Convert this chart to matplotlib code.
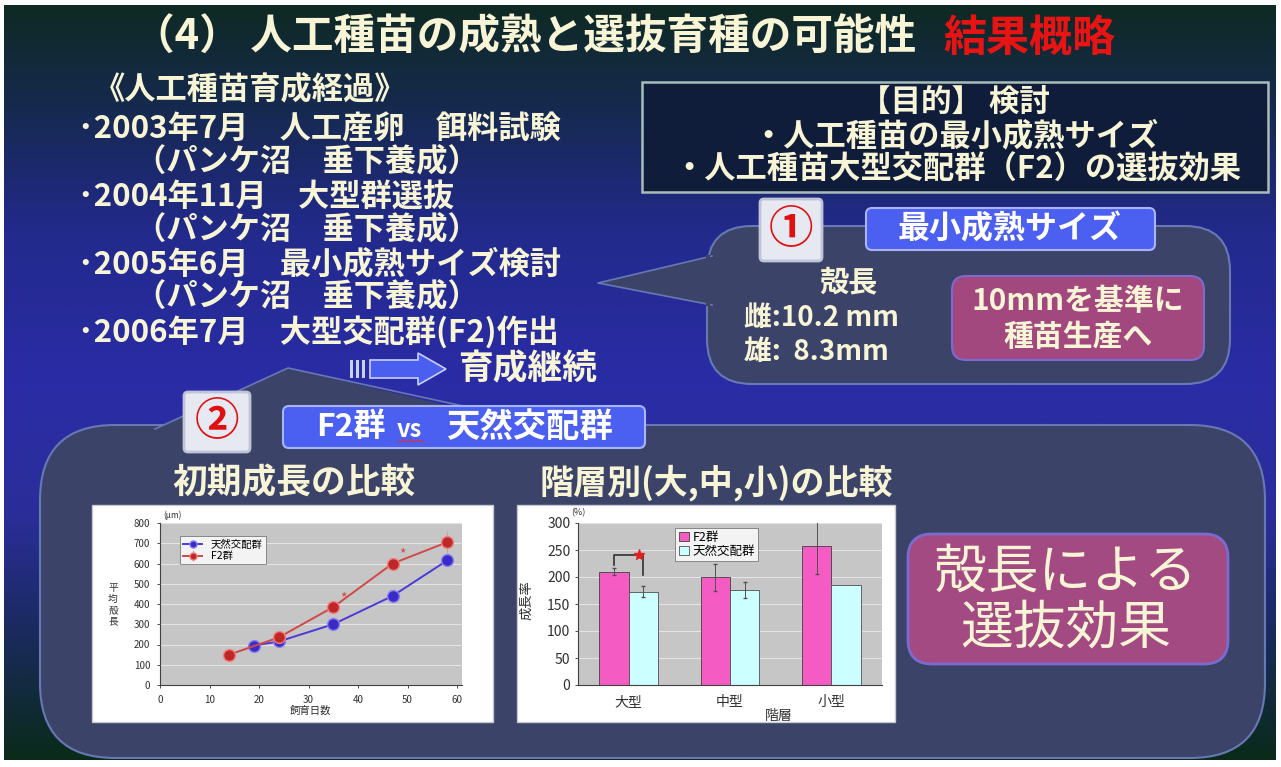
import numpy as np
import matplotlib
matplotlib.use("Agg")
import matplotlib.pyplot as plt
from matplotlib.patches import FancyBboxPatch, Polygon, Rectangle
from matplotlib.colors import LinearSegmentedColormap

plt.rcParams['font.family'] = ['Noto Sans CJK JP', 'DejaVu Sans']

# ---------------- data ----------------
days_natural = [19, 24, 35, 47, 58]
len_natural = [195, 215, 300, 440, 615]
days_f2 = [14, 24, 35, 47, 58]
len_f2 = [150, 235, 385, 600, 705]
err_f2 = [0, 0, 0, 0, 55]
line_xticks = [0, 10, 20, 30, 40, 50, 60]
line_yticks = [0, 100, 200, 300, 400, 500, 600, 700, 800]

classes = ['大型', '中型', '小型']
rate_f2 = [210, 200, 257]
rate_f2_err = [7, 25, 52]
rate_nat = [173, 176, 185]
rate_nat_err = [10, 15, 0]
bar_yticks = [0, 50, 100, 150, 200, 250, 300]

W, H = 1281, 767
fig = plt.figure(figsize=(W / 100, H / 100), dpi=100, facecolor='white')
bg = fig.add_axes([0, 0, 1, 1])
bg.set_xlim(0, W)
bg.set_ylim(H, 0)
bg.axis('off')

# background gradient
cmap = LinearSegmentedColormap.from_list('bg', [
    (0.0, '#0f2a24'), (0.12, '#15294a'), (0.30, '#222a8c'), (0.50, '#2a2ca6'),
    (0.68, '#2a2e98'), (0.82, '#1b2a62'), (1.0, '#0a2a1a')])
grad = np.linspace(0, 1, 400).reshape(-1, 1)
bg.imshow(grad, cmap=cmap, extent=[4, 1276, 760, 5], aspect='auto', zorder=0)

CREAM = '#f8f4d6'
FB = dict(fontweight='bold', color=CREAM)

# title
bg.text(916, 38, '（4） 人工種苗の成熟と選抜育種の可能性', fontsize=30, ha='right', va='center', **FB)
bg.text(943, 38, '結果概略', fontsize=31, ha='left', va='center', fontweight='bold', color='#e81414')

# left history list
lines = [
    (94, 90, '《人工種苗育成経過》'),
    (78, 129, '･2003年7月　人工産卵　餌料試験'),
    (135, 162, '（パンケ沼　垂下養成）'),
    (78, 197, '･2004年11月　大型群選抜'),
    (135, 230, '（パンケ沼　垂下養成）'),
    (78, 264, '･2005年6月　最小成熟サイズ検討'),
    (135, 297, '（パンケ沼　垂下養成）'),
    (78, 332, '･2006年7月　大型交配群(F2)作出'),
]
for x, y, t in lines:
    bg.text(x, y, t, fontsize=22.5, ha='left', va='center', **FB)

# arrow -> 育成継続
arrow = Polygon([(370, 360), (418, 360), (418, 353), (446, 369), (418, 385), (418, 378), (370, 378)],
                closed=True, facecolor='#4a5ef0', edgecolor='#c8d0ff', lw=1.2, zorder=3)
bg.add_patch(arrow)
for xx in (350, 356, 362):
    bg.add_patch(Rectangle((xx, 360), 3, 18, facecolor='#c8d0ff', edgecolor='none', zorder=3))
bg.text(458, 369, '育成継続', fontsize=25, ha='left', va='center', **FB)

# purpose box
bg.add_patch(Rectangle((642, 82), 626, 110, facecolor='#0f1d3a', edgecolor='#a8bcb8', lw=1.8, zorder=2))
bg.text(955, 103, '【目的】 検討', fontsize=22, ha='center', va='center', zorder=3, **FB)
bg.text(955, 136, '・人工種苗の最小成熟サイズ', fontsize=22.5, ha='center', va='center', zorder=3, **FB)
bg.text(957, 170, '・人工種苗大型交配群（F2）の選抜効果', fontsize=22.5, ha='center', va='center', zorder=3, **FB)

SLATE = '#3b4468'
EDGE = '#6878b4'
# bubble 1
bg.add_patch(FancyBboxPatch((707, 226), 523, 158, boxstyle='round,pad=0,rounding_size=45',
                            facecolor=SLATE, edgecolor=EDGE, lw=1.5, zorder=2))
bg.add_patch(Polygon([(712, 256), (598, 283), (712, 305)], closed=True, facecolor=SLATE,
                     edgecolor='none', zorder=2))
bg.plot([712, 598, 712], [256, 283, 305], color=EDGE, lw=1.2, zorder=2)
bg.plot([708, 708], [257, 304], color=SLATE, lw=3, zorder=2)

# ① box
bg.add_patch(FancyBboxPatch((760, 199), 62, 62, boxstyle='round,pad=0,rounding_size=4',
                            facecolor='#e6e8f2', edgecolor='#c0c4d8', lw=2, zorder=4))
bg.text(791, 230, '①', fontsize=32, ha='center', va='center', color='#e01010', fontweight='bold', zorder=5)
# label
bg.add_patch(FancyBboxPatch((866, 208), 289, 42, boxstyle='round,pad=0,rounding_size=6',
                            facecolor='#4b5ff0', edgecolor='#a8b4ff', lw=1.5, zorder=4))
bg.text(1010, 229, '最小成熟サイズ', fontsize=23, ha='center', va='center', color='white', fontweight='bold', zorder=5)

bg.text(848, 282, '殻長', fontsize=21, ha='center', va='center', zorder=5, **FB)
bg.text(744, 318, '雌:10.2 mm', fontsize=20, ha='left', va='center', zorder=5, **FB)
bg.text(744, 352, '雄:  8.3mm', fontsize=20, ha='left', va='center', zorder=5, **FB)

bg.add_patch(FancyBboxPatch((952, 276), 252, 84, boxstyle='round,pad=0,rounding_size=14',
                            facecolor='#a2487e', edgecolor='#7c6ad0', lw=1.5, zorder=4))
bg.text(1078, 301, '10mmを基準に', fontsize=21.5, ha='center', va='center', zorder=5, **FB)
bg.text(1078, 337, '種苗生産へ', fontsize=21.5, ha='center', va='center', zorder=5, **FB)

# big bubble
bg.add_patch(FancyBboxPatch((40, 425), 1225, 333, boxstyle='round,pad=0,rounding_size=75',
                            facecolor=SLATE, edgecolor=EDGE, lw=1.5, zorder=2))
bg.add_patch(Polygon([(150, 432), (288, 368), (560, 432)], closed=True, facecolor=SLATE,
                     edgecolor='none', zorder=2))
bg.plot([155, 288, 555], [429, 368, 426], color=EDGE, lw=1.2, zorder=2)

# ② box
bg.add_patch(FancyBboxPatch((184, 392), 66, 60, boxstyle='round,pad=0,rounding_size=4',
                            facecolor='#e6e8f2', edgecolor='#c0c4d8', lw=2, zorder=4))
bg.text(217, 422, '②', fontsize=32, ha='center', va='center', color='#e01010', fontweight='bold', zorder=5)
bg.add_patch(FancyBboxPatch((283, 406), 362, 42, boxstyle='round,pad=0,rounding_size=6',
                            facecolor='#4b5ff0', edgecolor='#a8b4ff', lw=1.5, zorder=4))
bg.text(316, 427, 'F2群', fontsize=23, ha='left', va='center', color='white', fontweight='bold', zorder=5)
bg.text(397, 430, 'vs', fontsize=17, ha='left', va='center', color='white', fontweight='bold', zorder=5)
bg.plot(np.linspace(398, 424, 14), 441 + 1.2 * np.sin(np.linspace(0, 7 * np.pi, 14)),
        color='#e03030', lw=0.8, zorder=5)
bg.text(446, 427, '天然交配群', fontsize=24, ha='left', va='center', color='white', fontweight='bold', zorder=5)

bg.text(294, 483, '初期成長の比較', fontsize=25, ha='center', va='center', zorder=5, **FB)
bg.text(716, 483, '階層別(大,中,小)の比較', fontsize=24.5, ha='center', va='center', zorder=5, **FB)

# pink result box
bg.add_patch(FancyBboxPatch((908, 534), 320, 130, boxstyle='round,pad=0,rounding_size=24',
                            facecolor='#a34a82', edgecolor='#7c6ad0', lw=2, zorder=4))
bg.text(1066, 572, '殻長による', fontsize=38, ha='center', va='center', color=CREAM, zorder=5)
bg.text(1066, 628, '選抜効果', fontsize=38, ha='center', va='center', color=CREAM, zorder=5)

# chart panels
bg.add_patch(Rectangle((92, 505), 401, 217, facecolor='white', edgecolor='#c8c8d0', lw=1, zorder=4))
bg.add_patch(Rectangle((517, 505), 378, 217, facecolor='white', edgecolor='#c8c8d0', lw=1, zorder=4))


def px_axes(x0, y0, x1, y1):
    return fig.add_axes([x0 / W, 1 - y1 / H, (x1 - x0) / W, (y1 - y0) / H])


# ---------- line chart ----------
ax1 = px_axes(160, 523, 462, 685)
ax1.set_facecolor('#c6c6c6')
ax1.set_xlim(0, 61)
ax1.set_ylim(0, 800)
ax1.set_yticks(line_yticks)
ax1.set_xticks(line_xticks)
ax1.grid(axis='y', color='#e4e4e4', lw=0.8)
ax1.set_axisbelow(True)
for s in ('top', 'right'):
    ax1.spines[s].set_visible(False)
ax1.spines['left'].set_color('#404040')
ax1.spines['bottom'].set_color('#404040')
ax1.tick_params(labelsize=7, colors='#303030', length=2, width=0.6, pad=5)
ax1.plot(days_natural, len_natural, color='#4a3ad8', lw=1.4, marker='o', ms=8.5,
         mfc='#3a2ac8', mec='#8a80f0', label='天然交配群')
ax1.errorbar(days_f2, len_f2, yerr=err_f2, color='#d04848', lw=1.4, marker='o', ms=8.5,
             mfc='#c02828', mec='#f08080', ecolor='#d0a0a0', elinewidth=0.8, label='F2群')
ax1.text(days_f2[2] + 2, len_f2[2] + 45, '*', color='#d04848', fontsize=10, ha='center', va='center')
ax1.text(days_f2[3] + 2, len_f2[3] + 45, '*', color='#d04848', fontsize=10, ha='center', va='center')
leg1 = ax1.legend(loc='upper left', bbox_to_anchor=(0.05, 0.95), fontsize=7.5, frameon=True,
                  fancybox=False, edgecolor='#606060', handlelength=1.8, borderpad=0.3,
                  labelspacing=0.15, markerscale=0.6)
leg1.get_frame().set_linewidth(0.6)
ax1.set_xlabel('飼育日数', fontsize=7.5, color='#303030', labelpad=1)
for i, ch in enumerate('平均殻長'):
    bg.text(113, 588 + i * 11, ch, fontsize=7, ha='center', va='center', color='#303030', zorder=6)
bg.text(172, 515, '(μm)', fontsize=6, ha='center', va='center', color='#303030', zorder=6)

# ---------- bar chart ----------
ax2 = px_axes(578, 523, 882, 685)
ax2.set_facecolor('#c6c6c6')
x = np.arange(len(classes))
bw = 0.29
ax2.bar(x - bw / 2, rate_f2, bw, yerr=rate_f2_err, color='#f45cc4', edgecolor='#404040', lw=0.6,
        error_kw=dict(ecolor='#505050', elinewidth=0.7, capsize=1.5), label='F2群')
ax2.bar(x + bw / 2, rate_nat, bw, yerr=[e if e > 0 else np.nan for e in rate_nat_err],
        color='#ccffff', edgecolor='#505050', lw=0.6,
        error_kw=dict(ecolor='#505050', elinewidth=0.7, capsize=1.5), label='天然交配群')
ax2.set_xlim(-0.5, 2.5)
ax2.set_ylim(0, 300)
ax2.set_yticks(bar_yticks)
ax2.set_xticks(x)
ax2.set_xticklabels(classes)
ax2.grid(axis='y', color='#e4e4e4', lw=0.8)
ax2.set_axisbelow(True)
for s in ('top', 'right'):
    ax2.spines[s].set_visible(False)
ax2.spines['left'].set_color('#404040')
ax2.spines['bottom'].set_color('#404040')
ax2.tick_params(axis='y', labelsize=10, colors='#303030', length=2, width=0.6)
ax2.tick_params(axis='x', labelsize=10, colors='#303030', length=0, pad=7)
# significance bracket
yb = 240
ax2.plot([x[0] - bw / 2, x[0] - bw / 2, x[0] + bw / 2, x[0] + bw / 2],
         [rate_f2[0] + 12, yb, yb, rate_nat[0] + 30], color='#303030', lw=1.2)
ax2.plot([x[0] + bw / 2 - 0.04], [yb], marker='*', color='#e02020', ms=8)
leg2 = ax2.legend(loc='upper left', bbox_to_anchor=(0.3, 1.01), fontsize=9, frameon=True,
                  fancybox=False, edgecolor='#606060', handlelength=0.8, handleheight=0.8,
                  borderpad=0.25, labelspacing=0.1, handletextpad=0.3)
leg2.get_frame().set_linewidth(0.6)
ax2.set_xlabel('階層', fontsize=10, color='#303030')
ax2.xaxis.set_label_coords(0.66, -0.15)
bg.text(527, 600, '成長率', fontsize=9.5, ha='center', va='center', color='#303030',
        rotation=90, zorder=6)
bg.text(578, 513, '(%)', fontsize=6.5, ha='center', va='center', color='#303030', zorder=6)

fig.savefig('out.png', dpi=100, facecolor='white')
